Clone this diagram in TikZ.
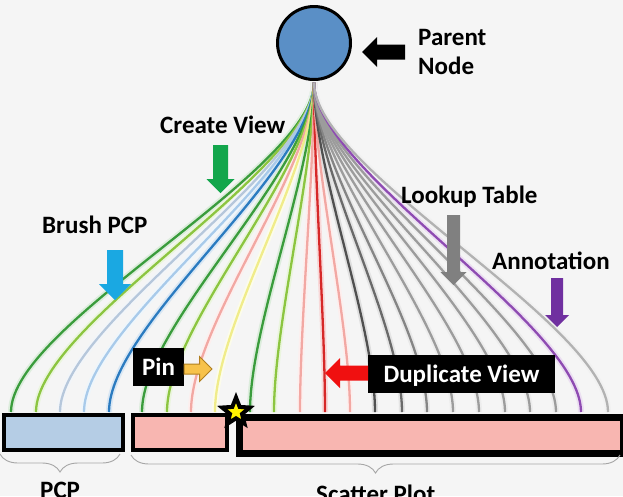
\documentclass[tikz,border=0pt]{standalone}
\usepackage{fontspec}
\setmainfont{Carlito}
\usetikzlibrary{shapes.geometric,decorations.pathreplacing}

\definecolor{paper}{HTML}{F5F5F5}
\definecolor{nodeblue}{HTML}{5A8FC6}
\definecolor{cvgreen}{HTML}{3A9C3C}
\definecolor{cvlime}{HTML}{8CC540}
\definecolor{paleblue}{HTML}{B6C7DB}
\definecolor{skyline}{HTML}{A8CAEA}
\definecolor{brushblue}{HTML}{2B7BC0}
\definecolor{salmonline}{HTML}{F2A8A3}
\definecolor{yellowline}{HTML}{F0EC8A}
\definecolor{dupred}{HTML}{D62828}
\definecolor{grayA}{HTML}{505050}
\definecolor{grayB}{HTML}{6A6A6A}
\definecolor{grayC}{HTML}{858585}
\definecolor{grayD}{HTML}{9C9C9C}
\definecolor{grayE}{HTML}{B2B2B2}
\definecolor{notepurple}{HTML}{8E4BB2}
\definecolor{cvarrow}{HTML}{13A64C}
\definecolor{brusharrow}{HTML}{1AA8E2}
\definecolor{lookuparrow}{HTML}{808080}
\definecolor{notearrow}{HTML}{7030A0}
\definecolor{pinarrow}{HTML}{F7C24B}
\definecolor{pinedge}{HTML}{B08020}
\definecolor{duparrow}{HTML}{F01010}
\definecolor{pcpfill}{HTML}{B5CDE5}
\definecolor{scatterfill}{HTML}{F8B6B1}

\tikzset{
  wire/.style={line width=2.3pt, shorten <=1.5pt},
  halo/.style={line width=6pt, shorten <=1.5pt},
  lbl/.style={font=\bfseries\fontsize{25}{30}\selectfont, inner sep=0pt, anchor=base west},
  tag/.style={lbl, anchor=center, fill=black, text=white, inner xsep=0pt, inner ysep=11pt,
    text height=16pt, text depth=0pt},
  viewbox/.style={draw=black, line width=4pt, anchor=north west, inner sep=0pt},
  bracket/.style={decorate, decoration={brace, mirror, amplitude=18pt}, draw=black!35, line width=0.9pt}
}

\newcommand{\blockarrow}[6]{%
  \fill[#6, shift={#1}, rotate=#2] (0,-#4) -- (#3-#5,-#4) -- (#3-#5,-#5) -- (#3,0)
    -- (#3-#5,#5) -- (#3-#5,#4) -- (0,#4) -- cycle;}

\begin{document}
\begin{tikzpicture}[x=1pt,y=-1pt]
  \useasboundingbox (0,0) rectangle (623,496);
  \clip (0,0) rectangle (623,496);
  \fill [paper] (0,0) rectangle (623,496);

  \node [circle, draw=black, line width=3pt, fill=nodeblue, minimum size=73pt] (parent) at (314,43) {};

  \foreach \x/\c in {11/cvgreen,36/cvlime,60/paleblue,84/skyline,109/brushblue,
    142/cvgreen,167/cvlime,191/salmonline,215/yellowline,250/cvgreen,274/cvlime,
    300/salmonline,325/dupred,350/salmonline,375/grayA,402/grayB,427/grayC,453/grayD,
    479/grayD,505/grayD,530/grayD,556/grayD,581/notepurple,608/grayE}
  {
    \coordinate (end\x) at (\x,412);
    \draw [halo,\c!18] (parent.south) .. controls +(0,90) and +(0,-88) .. (end\x);
  }
  \foreach \x/\c in {11/cvgreen,36/cvlime,60/paleblue,84/skyline,109/brushblue,
    142/cvgreen,167/cvlime,191/salmonline,215/yellowline,250/cvgreen,274/cvlime,
    300/salmonline,325/dupred,350/salmonline,375/grayA,402/grayB,427/grayC,453/grayD,
    479/grayD,505/grayD,530/grayD,556/grayD,581/notepurple,608/grayE}
  \draw [wire,\c] (parent.south) .. controls +(0,90) and +(0,-88) .. (end\x);

  \node [viewbox, fill=pcpfill, minimum width=119pt, minimum height=35pt] (pcp) at (2,413) {};
  \node [viewbox, fill=scatterfill, minimum width=94pt, minimum height=35pt] (pinned) at (131,413) {};
  \node [viewbox, fill=scatterfill, line width=7pt, minimum width=384pt, minimum height=36pt] (scatter) at (235.5,413.5) {};
  \node [star, star points=5, star point ratio=2.3, fill=yellow, draw=black, line width=4pt,
    minimum size=29pt, inner sep=0pt] (pinstar) at (236,412) {};

  \node [lbl] (parenttxt) at (418,45) {Parent};
  \node [lbl] (nodetxt) at (418,74) {Node};
  \node [lbl] (createtxt) at (160,133) {Create View};
  \node [lbl] (brushtxt) at (42,233) {Brush PCP};
  \node [lbl] (lookuptxt) at (401,203) {Lookup Table};
  \node [lbl] (notetxt) at (492,269) {Annotation};
  \node [tag, minimum width=51pt] (pintag) at (158.5,367) {Pin};
  \node [tag, minimum width=187pt] (duptag) at (461.5,374) {Duplicate View};

  \blockarrow{(405,52)}{180}{43}{7.5}{15}{black}
  \blockarrow{(220.5,145)}{-90}{48}{7.5}{14}{cvarrow}
  \blockarrow{(115,250)}{-90}{50}{8}{16}{brusharrow}
  \blockarrow{(453.5,215)}{-90}{70}{6.5}{13}{lookuparrow}
  \blockarrow{(557,278)}{-90}{49}{6}{12}{notearrow}
  \blockarrow{(184,369)}{0}{28}{5}{12.5}{pinarrow, draw=pinedge, line width=1pt}
  \blockarrow{(368,373)}{180}{43}{7.5}{15}{duparrow}

  \draw [bracket] (0,454) -- (120,454);
  \draw [bracket] (131,455) -- (620,455);
  \node [lbl] (pcptxt) at (40,498) {PCP};
  \node [lbl] (scattertxt) at (316,502) {Scatter Plot};
\end{tikzpicture}
\end{document}
